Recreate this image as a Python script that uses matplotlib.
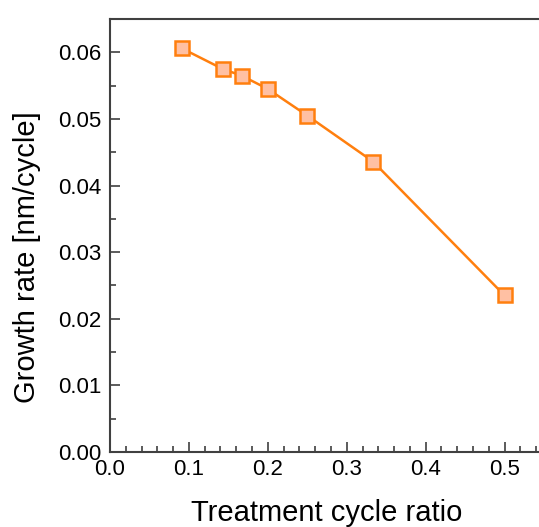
import matplotlib
matplotlib.use("Agg")
import matplotlib.pyplot as plt
from matplotlib.ticker import MultipleLocator

plt.rcParams['font.family'] = ['Liberation Sans', 'DejaVu Sans']

# treatment cycle ratio vs growth rate
ratio = [1/11, 1/7, 1/6, 1/5, 1/4, 1/3, 1/2]
growth = [0.0606, 0.0575, 0.0565, 0.0545, 0.0505, 0.0436, 0.0235]

W, H = 539, 527
fig = plt.figure(figsize=(W/100, H/100), dpi=100)
# axes runs past the right edge like in the original crop
ax = fig.add_axes([110/W, (H-452)/H, 434/W, 433/H])

ax.plot(ratio, growth, color='#ff7f0e', lw=1.8, marker='s', ms=10,
        mfc='#ffc0a3', mec='#ff7f0e', mew=1.8)

ax.set_xlim(0, 0.55)
ax.set_ylim(0, 0.065)
ax.xaxis.set_major_locator(MultipleLocator(0.1))
ax.xaxis.set_minor_locator(MultipleLocator(0.02))
ax.yaxis.set_major_locator(MultipleLocator(0.01))
ax.yaxis.set_minor_locator(MultipleLocator(0.005))
ax.xaxis.set_major_formatter(lambda v, p: f"{v:.1f}")
ax.yaxis.set_major_formatter(lambda v, p: f"{v:.2f}")

ax.tick_params(which='both', direction='in', colors='#404040', labelcolor='black',
               labelsize=16, top=False, right=False)
ax.tick_params(which='major', length=7, width=1.2)
ax.tick_params(which='minor', length=4, width=1.2)
ax.tick_params(axis='x', pad=5)
ax.tick_params(axis='y', pad=6)

for s in ax.spines.values():
    s.set_color('#404040')
    s.set_linewidth(1.5)

ax.set_xlabel('Treatment cycle ratio', fontsize=21, labelpad=14)
ax.set_ylabel('Growth rate [nm/cycle]', fontsize=21)
# y label sits a bit below the axis centre in the original
ax.yaxis.set_label_coords(-0.191, 0.45)
ax.yaxis.label.set_va('center')

fig.savefig('out.png', dpi=100)
